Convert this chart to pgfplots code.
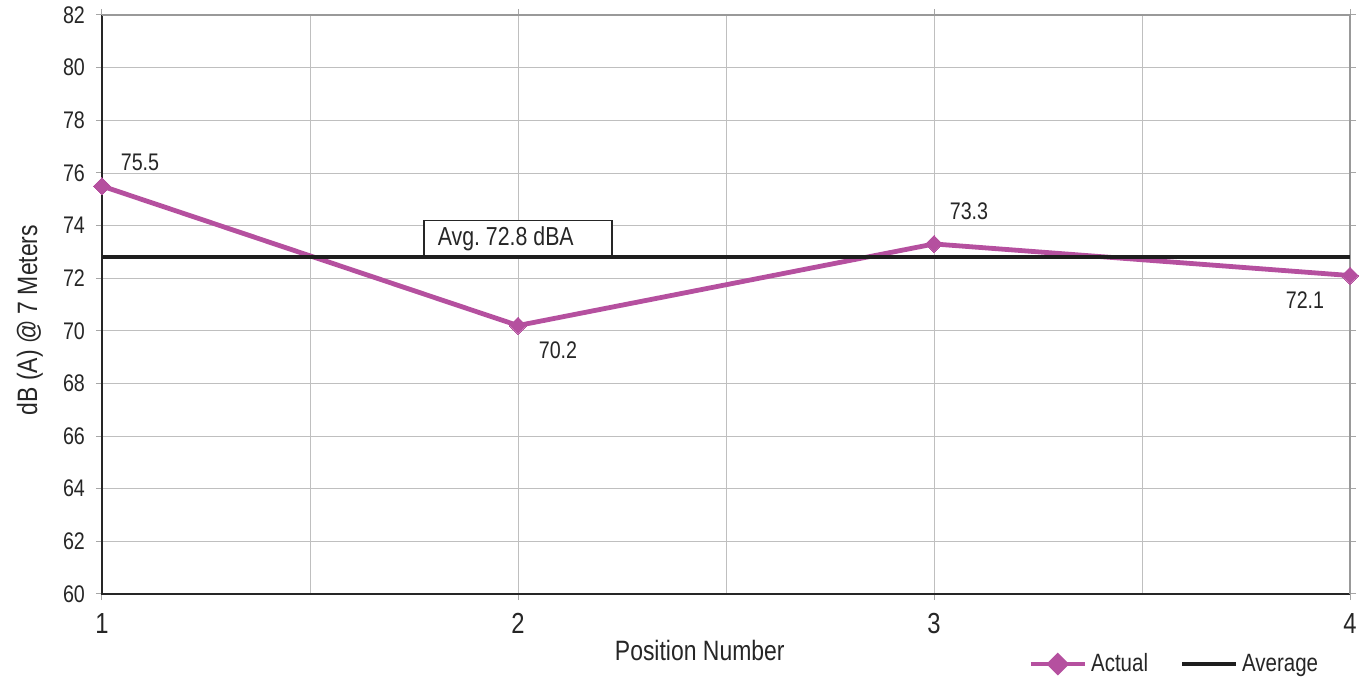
\documentclass[border=0pt]{standalone}
\usepackage{fontspec}
\setmainfont{Liberation Sans}[FakeStretch=0.82]
\usepackage{pgfplots}
\pgfplotsset{compat=1.18}
\definecolor{actual}{HTML}{B5509F}
\definecolor{avgc}{HTML}{1E1E1E}
\begin{document}
\frenchspacing
\begin{tikzpicture}
\path[use as bounding box] (-51pt,-42.5pt) rectangle (631pt,297pt);
\begin{axis}[
  scale only axis, width=624pt, height=289.5pt,
  xmin=1, xmax=4, ymin=60, ymax=82,
  xtick={1,2,3,4}, minor xtick={1.5,2.5,3.5},
  ytick={60,62,...,82},
  grid=both,
  major grid style={gray!50, line width=0.4pt},
  minor grid style={gray!50, line width=0.4pt},
  axis line style={draw=none},
  tick align=outside, major tick length=3pt, minor tick length=0pt,
  tick style={gray!70, line width=0.5pt},
  /pgf/number format/assume math mode=true,
  ticklabel style={font=\fontsize{12}{14}\selectfont, text=black!85},
  xticklabel style={font=\fontsize{14.5}{16}\selectfont, yshift=-3pt},
  yticklabel style={xshift=-2pt},
  xlabel={Position Number},
  ylabel={dB (A) @ 7 Meters},
  label style={font=\fontsize{14}{16}\selectfont, text=black!85},
  xlabel style={at={(axis description cs:0.479,-0.098)}, anchor=center},
  ylabel style={at={(axis description cs:-0.0577,0.473)}, anchor=center, rotate=0},
  legend style={at={(axis description cs:0.86,-0.121)}, anchor=center, draw=none, fill=none,
    legend columns=2, font=\fontsize{12.5}{14}\selectfont, text=black!85,
    /tikz/every even column/.append style={column sep=14pt}},
  legend cell align=left,
  clip=false,
]
\addplot[color=actual, line width=2.4pt, mark=square*, mark size=3pt,
  mark options={fill=actual, draw=actual, line width=0pt, rotate=45},
  legend image code/.code={\draw[actual, line width=2.3pt] (0,0)--(27pt,0); \fill[actual] (13.5pt,0) +(0,4pt) -- +(4pt,0) -- +(0,-4pt) -- +(-4pt,0) -- cycle;}]
  coordinates {(1,75.5) (2,70.2) (3,73.3) (4,72.1)};
\addlegendentry{Actual}
\addplot[color=avgc, line width=2pt,
  legend image code/.code={\draw[avgc, line width=2pt] (0,0)--(27pt,0);}]
  coordinates {(1,72.8) (4,72.8)};
\addlegendentry{Average}
\draw[black!85, line width=0.9pt] (rel axis cs:0,1) -- (rel axis cs:0,0) -- (rel axis cs:1,0);
\draw[gray!80, line width=0.6pt] (rel axis cs:0,1) -- (rel axis cs:1,1) -- (rel axis cs:1,0);
\node[draw=black!85, fill=white, line width=0.6pt, anchor=south, minimum width=94pt, minimum height=18pt, inner sep=0pt]
  (avgbox) at (axis cs:2,72.8) {};
\node[anchor=west, inner sep=0pt, font=\fontsize{13}{15}\selectfont, text=black!85]
  at ([xshift=7pt]avgbox.west) {Avg. 72.8 dBA};
\draw[avgc, line width=2pt] (axis cs:1,72.8) -- (axis cs:4,72.8);
\node[font=\fontsize{12}{14}\selectfont, text=black!85] at (axis cs:1,75.5) [xshift=19pt, yshift=12pt] {75.5};
\node[font=\fontsize{12}{14}\selectfont, text=black!85] at (axis cs:2,70.2) [xshift=20pt, yshift=-12.5pt] {70.2};
\node[font=\fontsize{12}{14}\selectfont, text=black!85] at (axis cs:3,73.3) [xshift=17.5pt, yshift=16.5pt] {73.3};
\node[font=\fontsize{12}{14}\selectfont, text=black!85] at (axis cs:4,72.1) [xshift=-22.5pt, yshift=-12.5pt] {72.1};
\end{axis}
\end{tikzpicture}
\end{document}
